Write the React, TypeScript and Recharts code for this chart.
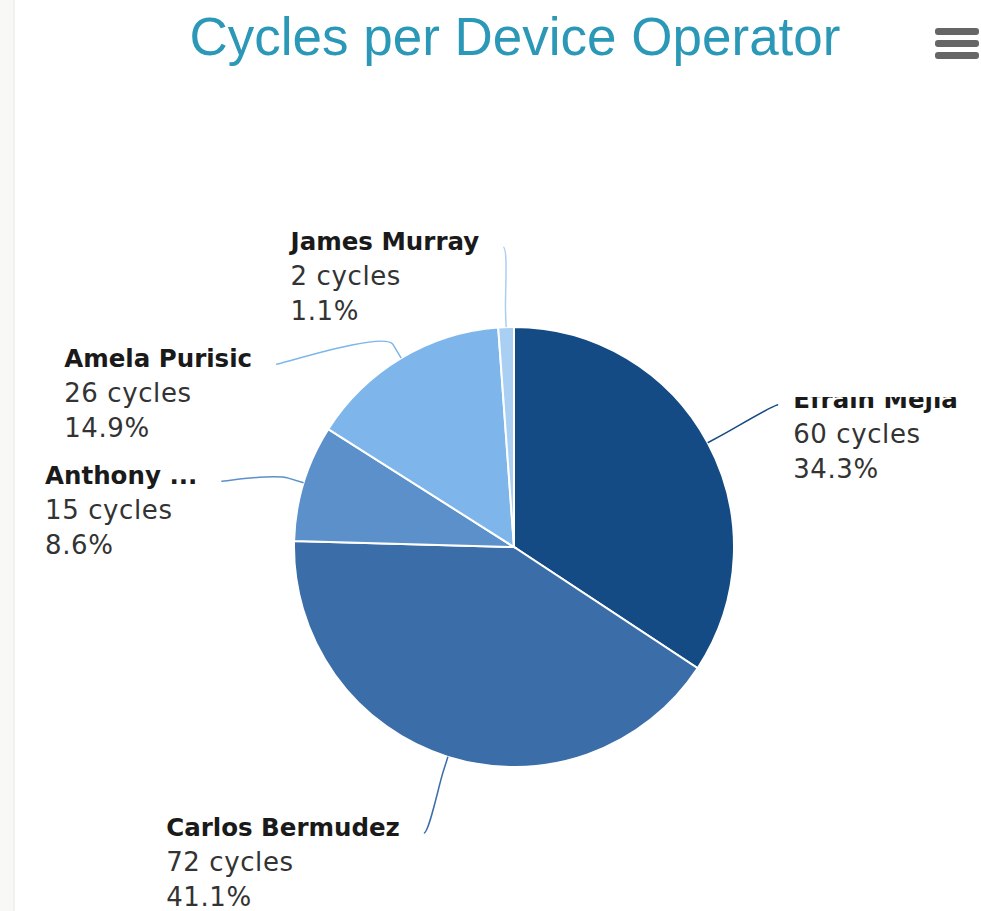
import { PieChart, Pie, Cell } from "recharts";

const operators = ["Efrain Mejia", "Carlos Bermudez", "Anthony ...", "Amela Purisic", "James Murray"];
const cycles = [60, 72, 15, 26, 2];
const colors = ["#144b84", "#3b6ea8", "#5b90cb", "#7eb6ec", "#a9d0f2"];

const data = operators.map((name, i) => ({ name, value: cycles[i] }));

const CX = 514;
const CY = 547;
const R = 220;
const LABEL_DIST = 80;
const LABEL_STEP = 117;
const RAD = Math.PI / 180;

const nameFont = "bold 24.5px 'DejaVu Sans'";

let ctx: CanvasRenderingContext2D | null = null;
const textWidth = (s: string) => {
    if (!ctx) ctx = document.createElement("canvas").getContext("2d");
    if (!ctx) return s.length * 14;
    ctx.font = nameFont;
    return ctx.measureText(s).width;
};

// highcharts-ish label layout: stack labels per side so they dont overlap
const layoutLabels = () => {
    const total = cycles.reduce((a, b) => a + b, 0);
    let cum = 0;
    const items = cycles.map((v, i) => {
        const frac = (cum + v / 2) / total;
        cum += v;
        const mid = 90 - frac * 360;
        const dx = Math.cos(mid * RAD);
        const dy = -Math.sin(mid * RAD);
        const left = frac > 0.5;
        return { i, dx, dy, left, y: CY + (R + LABEL_DIST) * dy, x: 0 };
    });
    [true, false].forEach((side) => {
        const list = items.filter((it) => it.left === side).sort((a, b) => a.y - b.y);
        let prev = -Infinity;
        list.forEach((it) => {
            it.y = Math.max(it.y, prev + LABEL_STEP);
            prev = it.y;
            const RR = R + LABEL_DIST;
            const off = Math.sqrt(Math.max(0, RR * RR - (it.y - CY) * (it.y - CY)));
            it.x = CX + (side ? -off : off);
        });
    });
    return items;
};

const labels = layoutLabels();

const renderLabel = (props: any) => {
    const { index } = props;
    const lab = labels[index];
    const touch = { x: CX + R * lab.dx, y: CY + R * lab.dy };
    const brk = { x: CX + (R + 16) * lab.dx, y: CY + (R + 16) * lab.dy };
    const c1x = lab.x + (lab.left ? 5 : -5);
    const path = `M ${lab.x} ${lab.y} C ${c1x} ${lab.y} ${2 * brk.x - touch.x} ${2 * brk.y - touch.y} ${brk.x} ${brk.y} L ${touch.x} ${touch.y}`;
    const name = operators[index];
    const total = cycles.reduce((a, b) => a + b, 0);
    const pct = ((cycles[index] / total) * 100).toFixed(1);
    const tx = lab.left ? lab.x - 24 - textWidth(name) : lab.x + 15;
    const base = lab.y + 3;
    return (
        <g key={"lab" + index}>
            <path d={path} fill="none" stroke={colors[index]} strokeWidth={1.5} />
            <text x={tx} y={base} fontFamily="'DejaVu Sans'" fontWeight="bold" fontSize={24.5} fill="#1a1a1a">
                {name}
            </text>
            <text x={tx} y={base + 35} fontFamily="'DejaVu Sans'" fontSize={26} letterSpacing={0.6} fill="#333">
                {cycles[index]} cycles
            </text>
            <text x={tx} y={base + 70} fontFamily="'DejaVu Sans'" fontSize={26} letterSpacing={0.6} fill="#333">
                {pct}%
            </text>
        </g>
    );
};

const App = () => {
    return (
        <div style={{ position: "absolute", left: 0, top: 0, width: 981, height: 911, background: "#fff", overflow: "hidden" }}>
            <div style={{ position: "absolute", left: 0, top: 0 }}>
                <PieChart width={981} height={911} margin={{ top: 0, right: 0, bottom: 0, left: 0 }}>
                    <Pie
                        data={data}
                        dataKey="value"
                        nameKey="name"
                        cx={CX}
                        cy={CY}
                        outerRadius={R}
                        startAngle={90}
                        endAngle={-270}
                        stroke="#fff"
                        strokeWidth={2}
                        label={renderLabel}
                        labelLine={false}
                        isAnimationActive={false}
                    >
                        {data.map((d, i) => (
                            <Cell key={d.name} fill={colors[i]} />
                        ))}
                    </Pie>
                </PieChart>
            </div>
            {/* white block that hides the top of the right label, like the source */}
            <div style={{ position: "absolute", left: 782, top: 90, width: 199, height: 307, background: "#fff" }} />
            <div style={{ position: "absolute", left: 0, top: 0, width: 13, height: 911, background: "#f8f8f6", borderRight: "2px solid #f1f1ef" }} />
            <div
                style={{
                    position: "absolute",
                    left: 0,
                    top: 10,
                    width: 1030,
                    textAlign: "center",
                    fontFamily: "'Liberation Sans', Arial, sans-serif",
                    fontSize: 53,
                    lineHeight: "53px",
                    color: "#2a98b6",
                    whiteSpace: "nowrap",
                }}
            >
                Cycles per Device Operator
            </div>
            <div style={{ position: "absolute", left: 935, top: 28 }}>
                {[0, 1, 2].map((k) => (
                    <div key={k} style={{ width: 44, height: 7, borderRadius: 3, background: "#666", marginBottom: 5 }} />
                ))}
            </div>
        </div>
    );
};

export default App;
